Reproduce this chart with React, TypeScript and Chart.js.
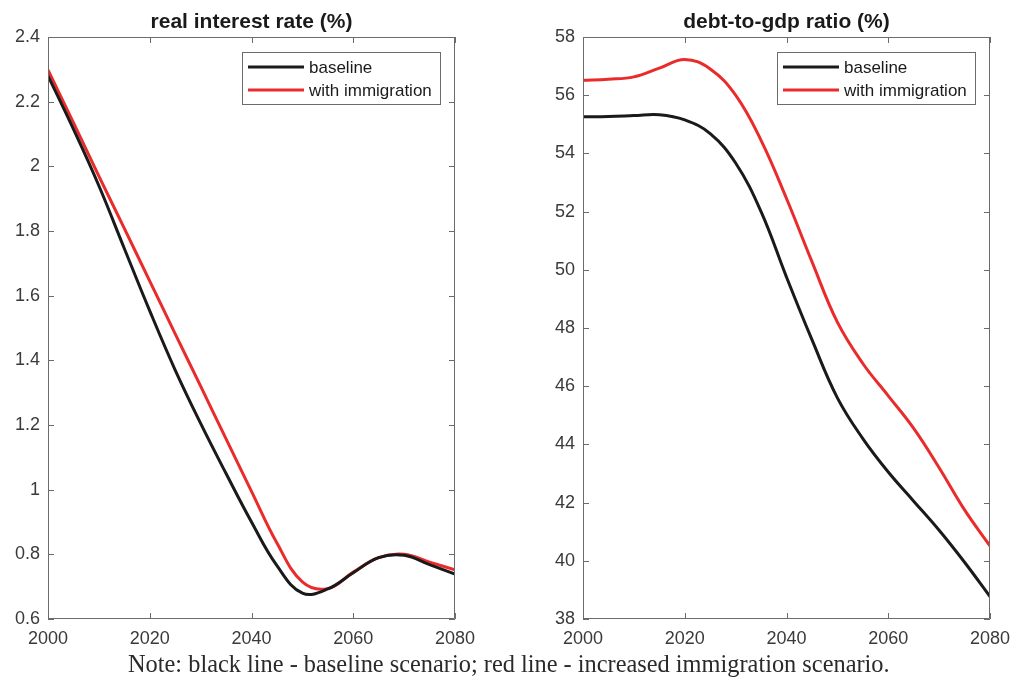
import React, { useEffect, useRef } from "react";
import { Chart, registerables } from "chart.js";

Chart.register(...registerables);

// ---------- data ----------
const years = [2000, 2005, 2010, 2015, 2020, 2025, 2030, 2035, 2040, 2045, 2050, 2055, 2060, 2065, 2070, 2075, 2080];
const rateBaseline = [2.28, 2.115, 1.94, 1.746, 1.553, 1.37, 1.205, 1.05, 0.9, 0.765, 0.68, 0.693, 0.743, 0.79, 0.797, 0.768, 0.739];
const rateImmigration = [2.298, 2.135, 1.97, 1.808, 1.645, 1.482, 1.32, 1.157, 0.995, 0.835, 0.715, 0.694, 0.745, 0.79, 0.8, 0.776, 0.752];
const debtBaseline = [55.26, 55.27, 55.3, 55.33, 55.15, 54.68, 53.67, 52.0, 49.75, 47.6, 45.6, 44.2, 43.05, 42.05, 41.05, 39.95, 38.77];
const debtImmigration = [56.51, 56.55, 56.63, 56.93, 57.23, 56.9, 56.0, 54.45, 52.45, 50.28, 48.2, 46.78, 45.67, 44.55, 43.2, 41.75, 40.51];
const xTicks = [2000, 2020, 2040, 2060, 2080];
const rateTicks = [0.6, 0.8, 1, 1.2, 1.4, 1.6, 1.8, 2, 2.2, 2.4];
const debtTicks = [38, 40, 42, 44, 46, 48, 50, 52, 54, 56, 58];
const seriesLabels = ["baseline", "with immigration"];
const panelTitles = ["real interest rate (%)", "debt-to-gdp ratio (%)"];
const noteText = "Note: black line - baseline scenario; red line - increased immigration scenario.";

const W = 1013;
const H = 677;
const BLACK = "#1a1a1a";
const RED = "#ea2b2b";
const AXIS = "#6b6b6b";
const TEXT = "#3a3a3a";
const SANS = '"Liberation Sans", Arial, Helvetica, sans-serif';

function framePlugin(title: string) {
  return {
    id: "matlabFrame",
    afterDatasetsDraw(chart: any) {
      const { ctx, chartArea } = chart;
      const { left, right, top, bottom } = chartArea;
      const xs = chart.scales.x;
      const ys = chart.scales.y;
      const tl = 6;
      ctx.save();
      ctx.strokeStyle = AXIS;
      ctx.lineWidth = 1;
      ctx.beginPath();
      ctx.rect(left + 0.5, top + 0.5, right - left - 1, bottom - top - 1);
      xs.ticks.forEach((t: any) => {
        const px = Math.round(xs.getPixelForValue(t.value)) + 0.5;
        ctx.moveTo(px, bottom);
        ctx.lineTo(px, bottom - tl);
        ctx.moveTo(px, top);
        ctx.lineTo(px, top + tl);
      });
      ys.ticks.forEach((t: any) => {
        const py = Math.round(ys.getPixelForValue(t.value)) + 0.5;
        ctx.moveTo(left, py);
        ctx.lineTo(left + tl, py);
        ctx.moveTo(right, py);
        ctx.lineTo(right - tl, py);
      });
      ctx.stroke();
      ctx.restore();
    },
    afterDraw(chart: any) {
      const { ctx, chartArea } = chart;
      const { left, right, top } = chartArea;
      ctx.save();
      // title
      ctx.fillStyle = "#1a1a1a";
      ctx.font = "bold 21px " + SANS;
      ctx.textAlign = "center";
      ctx.textBaseline = "middle";
      ctx.fillText(title, (left + right) / 2, 22);
      // legend
      const bl = right - 213;
      const bt = top + 15;
      const bw = 198;
      const bh = 52;
      ctx.fillStyle = "#ffffff";
      ctx.fillRect(bl, bt, bw, bh);
      ctx.strokeStyle = AXIS;
      ctx.lineWidth = 1;
      ctx.strokeRect(bl + 0.5, bt + 0.5, bw, bh);
      const colors = [BLACK, RED];
      const rows = [bt + 15, bt + 38];
      ctx.font = "17px " + SANS;
      ctx.textAlign = "left";
      ctx.textBaseline = "middle";
      seriesLabels.forEach((lab, i) => {
        ctx.strokeStyle = colors[i];
        ctx.lineWidth = 3;
        ctx.beginPath();
        ctx.moveTo(bl + 6, rows[i]);
        ctx.lineTo(bl + 62, rows[i]);
        ctx.stroke();
        ctx.fillStyle = "#1a1a1a";
        ctx.fillText(lab, bl + 67, rows[i] + 1);
      });
      ctx.restore();
    },
  };
}

function makeChart(
  canvas: HTMLCanvasElement,
  padLeft: number,
  padRight: number,
  yTicks: number[],
  base: number[],
  imm: number[],
  title: string
) {
  return new Chart(canvas, {
    type: "line",
    data: {
      datasets: [
        {
          label: seriesLabels[0],
          data: years.map((y, i) => ({ x: y, y: base[i] })),
          borderColor: BLACK,
          borderWidth: 3,
          pointRadius: 0,
          tension: 0.4,
          fill: false,
        },
        {
          label: seriesLabels[1],
          data: years.map((y, i) => ({ x: y, y: imm[i] })),
          borderColor: RED,
          borderWidth: 3,
          pointRadius: 0,
          tension: 0.4,
          fill: false,
        },
      ],
    },
    options: {
      animation: false,
      responsive: false,
      devicePixelRatio: 1,
      layout: { padding: { left: padLeft, right: padRight, top: 37, bottom: 18 } },
      plugins: { legend: { display: false }, tooltip: { enabled: false }, title: { display: false } },
      scales: {
        x: {
          type: "linear",
          min: xTicks[0],
          max: xTicks[xTicks.length - 1],
          afterBuildTicks: (s: any) => {
            s.ticks = xTicks.map((v) => ({ value: v }));
          },
          afterFit: (s: any) => {
            s.height = 40;
            s.paddingLeft = 0;
            s.paddingRight = 0;
          },
          grid: { display: false, drawTicks: false, tickLength: 0 },
          border: { display: false },
          ticks: {
            color: TEXT,
            font: { family: SANS, size: 18 },
            padding: 9,
            maxRotation: 0,
            autoSkip: false,
            callback: (v: any) => String(v),
          },
        },
        y: {
          type: "linear",
          min: yTicks[0],
          max: yTicks[yTicks.length - 1],
          afterBuildTicks: (s: any) => {
            s.ticks = yTicks.map((v) => ({ value: v }));
          },
          afterFit: (s: any) => {
            s.width = 48;
            s.paddingTop = 0;
            s.paddingBottom = 0;
          },
          grid: { display: false, drawTicks: false, tickLength: 0 },
          border: { display: false },
          ticks: {
            color: TEXT,
            font: { family: SANS, size: 18 },
            padding: 8,
            autoSkip: false,
            callback: (v: any) => String(v),
          },
        },
      },
    },
    plugins: [framePlugin(title)],
  } as any);
}

export default function App() {
  const leftRef = useRef<HTMLCanvasElement>(null);
  const rightRef = useRef<HTMLCanvasElement>(null);
  const noteRef = useRef<HTMLDivElement>(null);

  useEffect(() => {
    const c1 = makeChart(leftRef.current!, 0, W - 455, rateTicks, rateBaseline, rateImmigration, panelTitles[0]);
    const c2 = makeChart(rightRef.current!, 535, W - 990, debtTicks, debtBaseline, debtImmigration, panelTitles[1]);

    // fit note text to its width in the reference
    const m = document.createElement("canvas").getContext("2d")!;
    const fam = '"Liberation Serif", "DejaVu Serif", serif';
    m.font = "20px " + fam;
    const w = m.measureText(noteText).width;
    const size = (20 * 762) / w;
    const el = noteRef.current!;
    el.style.fontFamily = fam;
    el.style.fontSize = size + "px";
    el.style.lineHeight = size + "px";
    el.style.top = 672 - 0.8375 * size + "px";

    return () => {
      c1.destroy();
      c2.destroy();
    };
  }, []);

  return (
    <div style={{ position: "absolute", left: 0, top: 0, width: W, height: H, background: "#fff", overflow: "hidden" }}>
      <canvas ref={leftRef} width={W} height={H} style={{ position: "absolute", left: 0, top: 0 }} />
      <canvas ref={rightRef} width={W} height={H} style={{ position: "absolute", left: 0, top: 0 }} />
      <div
        ref={noteRef}
        style={{ position: "absolute", left: 128, top: 650, whiteSpace: "nowrap", color: "#2a2a2a" }}
      >
        {noteText}
      </div>
    </div>
  );
}
